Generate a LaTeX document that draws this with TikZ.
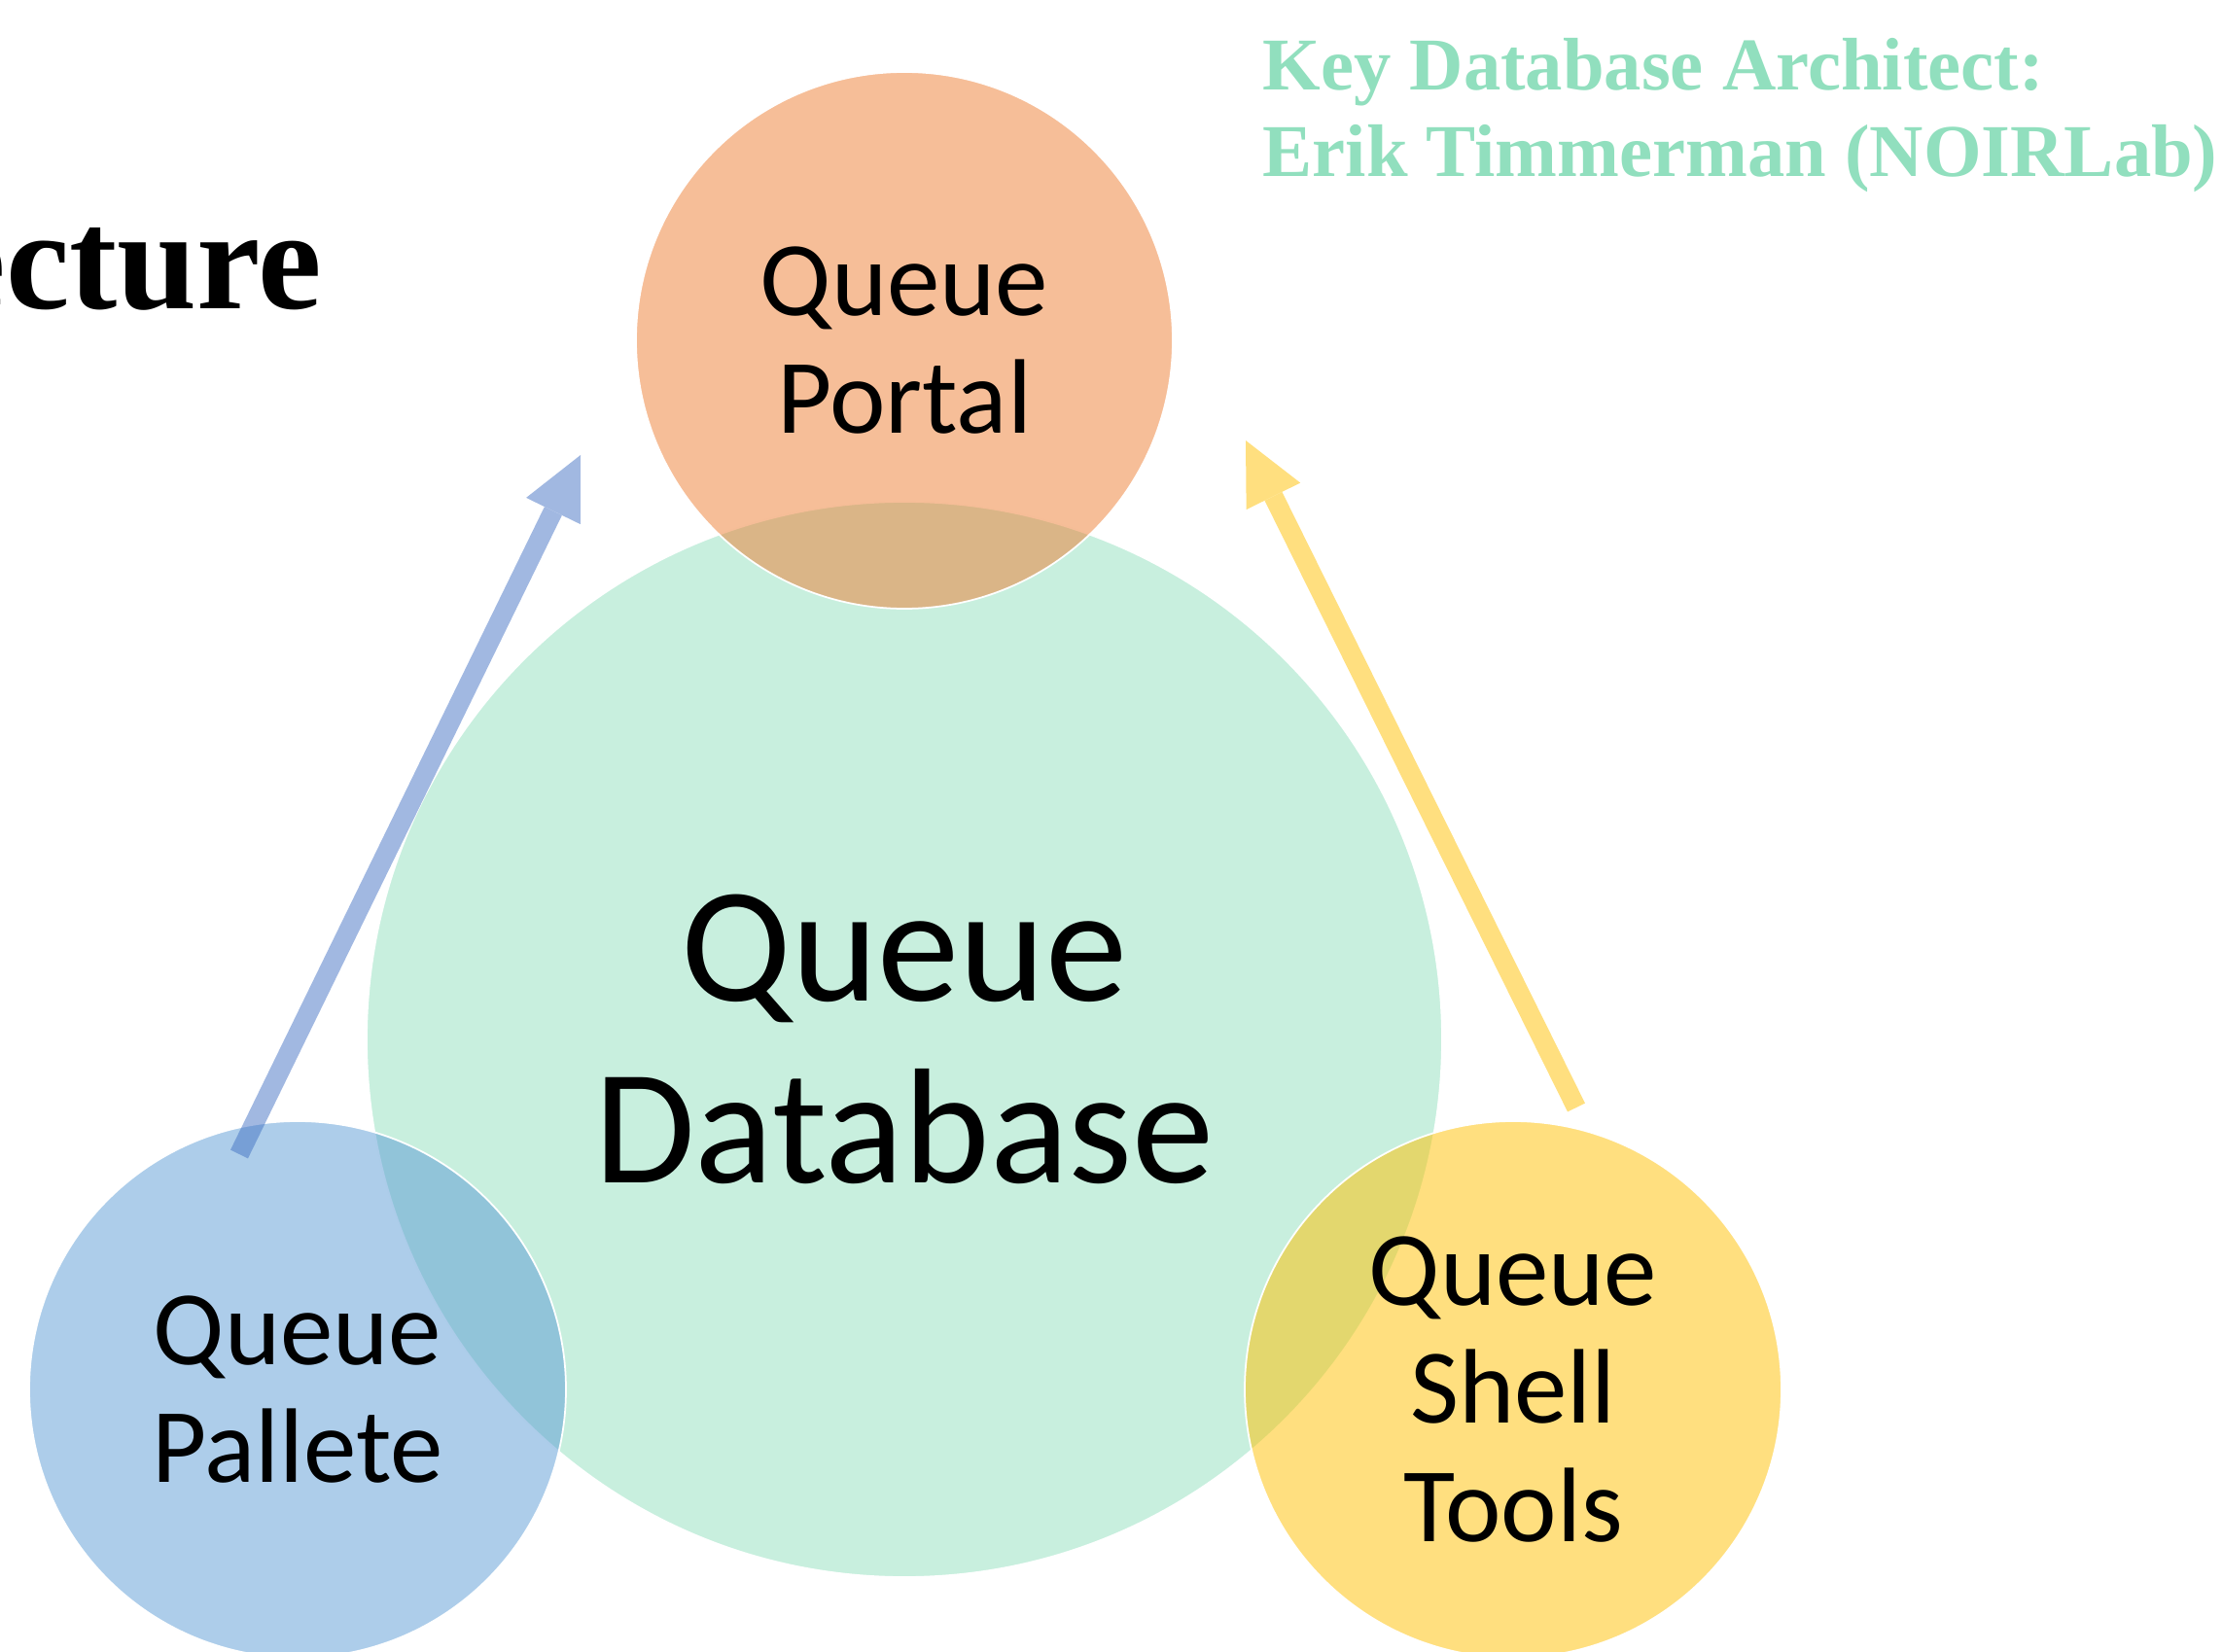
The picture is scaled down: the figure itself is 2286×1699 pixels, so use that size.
\documentclass[tikz,border=0pt]{standalone}
\usepackage{fontspec}
\setmainfont{Carlito}
\newfontfamily\serifnegra{Liberation Serif}
\usetikzlibrary{arrows.meta}

\definecolor{verdeq}{RGB}{145,223,190}
\definecolor{naranjaq}{RGB}{237,125,49}
\definecolor{azulq}{RGB}{91,155,213}
\definecolor{oroq}{RGB}{255,192,0}
\definecolor{azulflecha}{RGB}{68,114,196}

\begin{document}
\begin{tikzpicture}[x=0.1mm, y=-0.1mm,
  burbuja/.style={circle, draw=white, line width=0.5pt, fill opacity=0.5,
    text opacity=1, align=center, inner sep=0pt},
  chica/.style={burbuja, minimum size=5.52cm, font=\fontsize{31}{34.5}\selectfont},
  flecha/.style={line width=2mm, -{Triangle[length=6.4mm, width=6.2mm, line width=0pt]}},
  rotulo/.style={inner sep=0pt, font=\serifnegra\bfseries}]
  \useasboundingbox (0, 0) rectangle (2286, 1699);

  % Titulo
  \node[rotulo, anchor=base east, font=\serifnegra\bfseries\fontsize{42}{48}\selectfont] (titulo) at (332, 318) {ecture};
  \node[rotulo, anchor=base west, text=verdeq, align=left,
    font=\serifnegra\bfseries\fontsize{21.8}{25.5}\selectfont] (autor) at (1298, 182)
    {Key Database Architect:\\Erik Timmerman (NOIRLab)};

  % Circulos
  \node[burbuja, fill=verdeq, minimum size=11.06cm, font=\fontsize{48}{53}\selectfont] (db) at (930, 1069) {Queue\\Database};
  \node[chica, fill=naranjaq] (portal) at (930, 350) {Queue\\Portal};
  \node[chica, fill=azulq] (pallete) at (306, 1429) {Queue\\Pallete};
  \node[chica, fill=oroq] (shell) at (1556, 1429) {Queue\\Shell\\Tools};

  % Flechas
  \coordinate (salidapallete) at (246, 1187);
  \coordinate (entradaizq) at (597, 468);
  \coordinate (salidashell) at (1621, 1139);
  \coordinate (entradader) at (1281, 453);
  \begin{scope}[transparency group, opacity=0.5]
    \draw[flecha, azulflecha] (salidapallete) -- (entradaizq);
    \draw[flecha, oroq] (salidashell) -- (entradader);
  \end{scope}
\end{tikzpicture}
\end{document}
